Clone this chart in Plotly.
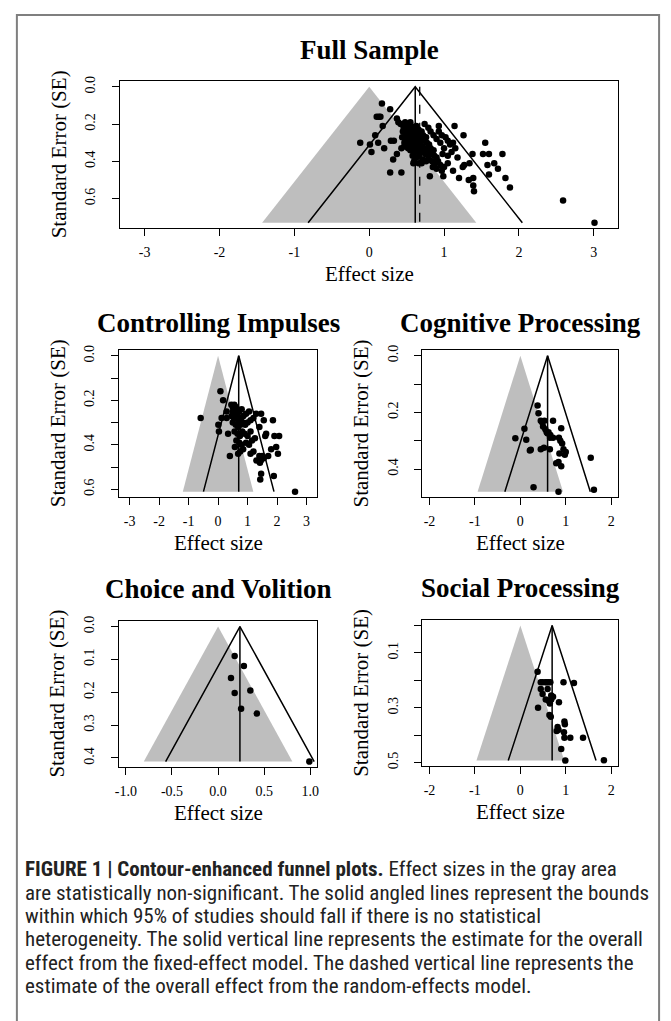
import plotly.graph_objects as go

# ---------------- DATA ----------------
# Full sample (effect size, standard error)
full_effect = [
    0.17, 0.28, 0.10, 0.13, 0.15, 0.37, 0.39, 0.42, 0.18, 0.08, -0.12, 0.01, 0.03, 0.12, 0.20,
    0.29, 0.33, 0.28, 0.43, 0.32, 0.37, 0.43, 0.47, 0.81, 0.93, 1.14, 1.26, 1.55, 1.52, 1.60,
    1.78, 1.67, 1.58, 1.72, 1.60, 1.82, 1.88, 1.38, 1.34, 1.25, 1.27, 1.20, 1.12, 1.33, 1.39,
    1.39, 1.40, 2.59, 3.01, 0.59, 0.70, 0.99,
    0.46, 0.50, 0.53, 0.56, 0.60, 0.63, 0.66, 0.70,
    0.45, 0.49, 0.52, 0.55, 0.58, 0.62, 0.65, 0.68, 0.72, 0.76,
    0.44, 0.48, 0.51, 0.54, 0.57, 0.60, 0.63, 0.66, 0.69, 0.73, 0.77, 0.80,
    0.47, 0.50, 0.53, 0.56, 0.59, 0.62, 0.65, 0.68, 0.71, 0.74, 0.78, 0.82, 0.86,
    0.52, 0.55, 0.58, 0.61, 0.64, 0.70, 0.75, 0.79, 0.83, 0.87, 0.90,
    0.58, 0.63, 0.67, 0.72, 0.76, 0.80, 0.84, 0.88, 0.92,
    0.60, 0.66, 0.85, 0.90, 0.95, 0.97, 1.00, 1.05,
    0.93, 0.97, 1.02, 1.05, 1.08, 1.12, 1.15, 1.10, 1.00, 0.95, 0.90, 0.86, 0.82, 0.79, 0.74,
    0.55, 0.48, 1.18, 1.05, 0.98,
]
full_se = [
    0.09, 0.12, 0.16, 0.16, 0.16, 0.17, 0.19, 0.20, 0.21, 0.26, 0.30, 0.31, 0.35, 0.30, 0.33,
    0.29, 0.29, 0.46, 0.46, 0.39, 0.36, 0.33, 0.32, 0.48, 0.21, 0.21, 0.26, 0.30, 0.36, 0.36,
    0.36, 0.41, 0.42, 0.44, 0.47, 0.49, 0.54, 0.36, 0.41, 0.43, 0.42, 0.49, 0.45, 0.50, 0.49,
    0.53, 0.56, 0.61, 0.73, 0.41, 0.41, 0.48,
    0.22, 0.21, 0.22, 0.21, 0.22, 0.21, 0.23, 0.24,
    0.24, 0.25, 0.24, 0.25, 0.24, 0.25, 0.26, 0.25, 0.26, 0.27,
    0.27, 0.28, 0.27, 0.28, 0.27, 0.28, 0.27, 0.29, 0.28, 0.29, 0.30, 0.31,
    0.30, 0.31, 0.30, 0.31, 0.30, 0.31, 0.32, 0.31, 0.32, 0.33, 0.34, 0.33, 0.34,
    0.33, 0.34, 0.33, 0.35, 0.34, 0.35, 0.36, 0.37, 0.36, 0.37, 0.38,
    0.37, 0.38, 0.37, 0.39, 0.40, 0.39, 0.40, 0.41, 0.40,
    0.40, 0.41, 0.43, 0.44, 0.42, 0.45, 0.43, 0.41,
    0.24, 0.26, 0.27, 0.29, 0.31, 0.30, 0.33, 0.35, 0.33, 0.30, 0.28, 0.26, 0.24, 0.22, 0.20,
    0.19, 0.19, 0.38, 0.37, 0.36,
]
full_fixed = 0.615
full_random = 0.675

# Controlling Impulses
ci_effect = [
    0.08, 0.17, -0.59, 0.12, 0.01, 0.03, 0.34, 0.40, 0.29, 0.29,
    0.45, 0.50, 0.55, 0.60, 0.65, 0.50, 0.58, 0.66, 0.72, 0.80, 0.46, 0.54, 0.62, 0.70, 0.78,
    0.86, 0.95, 1.05, 0.50, 0.60, 0.68, 0.76, 0.84, 0.92, 1.00, 1.10, 1.20, 0.56, 0.66, 0.74,
    0.82, 0.90, 1.00, 1.10, 0.62, 0.72, 0.80, 0.95, 1.05, 1.15, 0.57, 0.75, 0.85, 0.68,
    1.46, 1.29, 1.55, 1.86, 1.40, 1.63, 1.60, 1.91, 2.07, 1.97, 2.03, 1.80, 1.70, 1.40, 1.50,
    1.30, 1.45, 1.55, 1.42, 1.46, 1.43, 1.89, 2.61, 1.25, 1.20, 1.10,
]
ci_se = [
    0.16, 0.20, 0.28, 0.28, 0.31, 0.34, 0.35, 0.45, 0.28, 0.25,
    0.22, 0.23, 0.22, 0.23, 0.24, 0.25, 0.26, 0.26, 0.25, 0.24, 0.27, 0.28, 0.28, 0.29, 0.28,
    0.27, 0.26, 0.25, 0.30, 0.31, 0.32, 0.31, 0.30, 0.31, 0.30, 0.29, 0.28, 0.34, 0.35, 0.36,
    0.34, 0.35, 0.36, 0.34, 0.38, 0.39, 0.40, 0.39, 0.40, 0.38, 0.41, 0.43, 0.42, 0.44,
    0.26, 0.26, 0.29, 0.29, 0.32, 0.35, 0.36, 0.36, 0.36, 0.41, 0.44, 0.42, 0.45, 0.45, 0.45,
    0.47, 0.47, 0.46, 0.48, 0.53, 0.555, 0.54, 0.61, 0.37, 0.43, 0.44,
]
ci_fixed = 0.70

# Cognitive Processing
cp_effect = [
    0.38, 0.40, 0.45, 0.48, 0.53, 0.72, 0.50, 0.55, 0.58, 0.09, 0.90, 0.62, 0.66, 0.60, 0.65,
    0.72, -0.11, 0.13, 0.85, 0.88, 0.92, 0.23, 0.21, 0.45, 0.52, 0.65, 0.95, 1.00, 0.98, 0.86,
    1.55, 0.79, 0.84, 0.90, 0.29, 0.84, 1.62,
]
cp_se = [
    0.176, 0.203, 0.23, 0.235, 0.23, 0.23, 0.25, 0.26, 0.27, 0.258, 0.256, 0.27, 0.28, 0.275, 0.29,
    0.29, 0.291, 0.297, 0.29, 0.30, 0.31, 0.332, 0.335, 0.33, 0.325, 0.33, 0.33, 0.34, 0.35, 0.345,
    0.36, 0.38, 0.375, 0.39, 0.464, 0.48, 0.473,
]
cp_fixed = 0.60

# Choice and Volition
cv_effect = [0.18, 0.28, 0.14, 0.18, 0.35, 0.25, 0.42, 0.99]
cv_se = [0.09, 0.12, 0.157, 0.202, 0.195, 0.25, 0.265, 0.411]
cv_fixed = 0.237

# Social Processing
sp_effect = [
    0.38, 0.45, 0.49, 0.55, 0.58, 0.62, 0.66, 0.95, 1.18, 0.45, 0.60, 0.49, 0.68, 0.72, 0.56,
    0.62, 0.65, 0.68, 0.85, 0.39, 0.64, 0.67, 0.97, 0.98, 0.82, 0.84, 0.80, 0.96, 0.97, 1.10,
    1.38, 0.90, 0.99, 1.84,
]
sp_se = [
    0.169, 0.207, 0.207, 0.207, 0.207, 0.207, 0.207, 0.207, 0.21, 0.232, 0.232, 0.25, 0.255, 0.26, 0.27,
    0.275, 0.285, 0.27, 0.28, 0.30, 0.327, 0.333, 0.35, 0.36, 0.37, 0.38, 0.385, 0.39, 0.41, 0.41,
    0.41, 0.451, 0.493, 0.492,
]
sp_fixed = 0.70

# Titles and tick labels
panel_titles = ["Full Sample", "Controlling Impulses", "Cognitive Processing",
                "Choice and Volition", "Social Processing"]
x_tickvals = [
    [-3, -2, -1, 0, 1, 2, 3],
    [-3, -2, -1, 0, 1, 2, 3],
    [-2, -1, 0, 1, 2],
    [-1.0, -0.5, 0.0, 0.5, 1.0],
    [-2, -1, 0, 1, 2],
]
x_ticktext = [
    ["-3", "-2", "-1", "0", "1", "2", "3"],
    ["-3", "-2", "-1", "0", "1", "2", "3"],
    ["-2", "-1", "0", "1", "2"],
    ["-1.0", "-0.5", "0.0", "0.5", "1.0"],
    ["-2", "-1", "0", "1", "2"],
]
y_tickvals = [
    [0.0, 0.2, 0.4, 0.6],
    [0.0, 0.1, 0.2, 0.3, 0.4, 0.5, 0.6],
    [0.0, 0.1, 0.2, 0.3, 0.4],
    [0.0, 0.1, 0.2, 0.3, 0.4],
    [0.0, 0.1, 0.2, 0.3, 0.4, 0.5],
]
y_ticktext = [
    ["0.0", "0.2", "0.4", "0.6"],
    ["0.0", "", "0.2", "", "0.4", "", "0.6"],
    ["0.0", "", "0.2", "", "0.4"],
    ["0.0", "0.1", "0.2", "0.3", "0.4"],
    ["", "0.1", "", "0.3", "", "0.5"],
]
caption_lines = [
    "<b>FIGURE 1 | Contour-enhanced funnel plots.</b> Effect sizes in the gray area",
    "are statistically non-significant. The solid angled lines represent the bounds",
    "within which 95% of studies should fall if there is no statistical",
    "heterogeneity. The solid vertical line represents the estimate for the overall",
    "effect from the fixed-effect model. The dashed vertical line represents the",
    "estimate of the overall effect from the random-effects model.",
]

# ---------------- LAYOUT (pixels) ----------------
W, H = 671, 1021
boxes = [  # left, top, right, bottom in pixels
    (117, 77, 620, 225),
    (116, 348, 316, 496),
    (422, 348, 620, 496),
    (116, 621, 316, 768),
    (422, 620, 620, 767),
]
title_gap = [32, 27, 27, 32, 32]
x_ranges = [[-3.33, 3.33], [-3.36, 3.36], [-2.16, 2.16], [-1.075, 1.075], [-2.16, 2.16]]

effects = [full_effect, ci_effect, cp_effect, cv_effect, sp_effect]
ses = [full_se, ci_se, cp_se, cv_se, sp_se]
fixeds = [full_fixed, ci_fixed, cp_fixed, cv_fixed, sp_fixed]
randoms = [full_random, None, None, None, None]

SERIF = "Liberation Serif, Times New Roman, serif"
CAPFONT = "Roboto Condensed, Roboto, Liberation Sans, sans-serif"
GRAY = "#BEBEBE"


def px(x):
    return x / W


def py(y):
    return 1 - y / H


fig = go.Figure()
layout = dict(
    width=W, height=H, margin=dict(l=0, r=0, t=0, b=0),
    paper_bgcolor="white", plot_bgcolor="white", showlegend=False,
)
annotations = []

for i in range(5):
    n = "" if i == 0 else str(i + 1)
    xa, ya = "x" + n, "y" + n
    eff, se, fixed = effects[i], ses[i], fixeds[i]
    m = max(se)
    z = 1.96 * m
    # non-significance region (gray triangle around 0)
    fig.add_trace(go.Scatter(x=[-z, 0, z, -z], y=[m, 0, m, m], mode="lines",
                             fill="toself", fillcolor=GRAY, line=dict(width=0),
                             xaxis=xa, yaxis=ya, hoverinfo="skip"))
    # 95% pseudo-confidence funnel around fixed estimate
    fig.add_trace(go.Scatter(x=[fixed - z, fixed, fixed + z], y=[m, 0, m], mode="lines",
                             line=dict(color="black", width=1.5),
                             xaxis=xa, yaxis=ya, hoverinfo="skip"))
    fig.add_trace(go.Scatter(x=[fixed, fixed], y=[0, m], mode="lines",
                             line=dict(color="black", width=1.5),
                             xaxis=xa, yaxis=ya, hoverinfo="skip"))
    if randoms[i] is not None:
        fig.add_trace(go.Scatter(x=[randoms[i], randoms[i]], y=[0, m], mode="lines",
                                 line=dict(color="black", width=1.3, dash="dash"),
                                 xaxis=xa, yaxis=ya, hoverinfo="skip"))
    fig.add_trace(go.Scatter(x=eff, y=se, mode="markers",
                             marker=dict(color="black", size=6.5),
                             xaxis=xa, yaxis=ya, cliponaxis=False))

    l, t, r, b = boxes[i]
    ax_common = dict(showline=True, mirror=True, linecolor="black", linewidth=1.2,
                     ticks="outside", ticklen=7, tickwidth=1.2, tickcolor="black",
                     showgrid=False, zeroline=False, fixedrange=True,
                     tickfont=dict(family=SERIF, size=14, color="black"))
    layout["xaxis" + n] = dict(ax_common, domain=[px(l), px(r)], range=x_ranges[i],
                               anchor=ya, tickmode="array", tickvals=x_tickvals[i],
                               ticktext=x_ticktext[i], ticklabelstandoff=4)
    layout["yaxis" + n] = dict(ax_common, domain=[py(b), py(t)],
                               range=[1.04 * m, -0.04 * m], anchor=xa,
                               tickmode="array", tickvals=y_tickvals[i],
                               ticktext=y_ticktext[i], tickangle=-90,
                               ticklabelstandoff=11)
    cx = (l + r) / 2
    annotations.append(dict(text="<b>" + panel_titles[i] + "</b>", x=px(cx),
                            y=py(t - title_gap[i]),
                            xref="paper", yref="paper", showarrow=False,
                            xanchor="center", yanchor="middle",
                            font=dict(family=SERIF, size=27, color="black")))
    annotations.append(dict(text="Effect size", x=px(cx), y=py(b + 46),
                            xref="paper", yref="paper", showarrow=False,
                            xanchor="center", yanchor="middle",
                            font=dict(family=SERIF, size=21, color="black")))
    annotations.append(dict(text="Standard Error (SE)", x=px(l - 62), y=py((t + b) / 2),
                            xref="paper", yref="paper", showarrow=False, textangle=-90,
                            xanchor="center", yanchor="middle",
                            font=dict(family=SERIF, size=21, color="black")))

cap_y0, cap_dy = 871, 23.6
for k, line in enumerate(caption_lines):
    annotations.append(dict(text=line, x=px(19), y=py(cap_y0 + k * cap_dy),
                            xref="paper", yref="paper", showarrow=False,
                            xanchor="left", yanchor="middle",
                            font=dict(family=CAPFONT, size=21, color="#222222")))

layout["annotations"] = annotations
layout["shapes"] = [dict(type="rect", xref="paper", yref="paper",
                         x0=px(13), y0=py(1030), x1=px(661), y1=py(10),
                         line=dict(color="#7F7F7F", width=2), fillcolor="rgba(0,0,0,0)",
                         layer="below")]
fig.update_layout(**layout)
fig.write_html("out.html", config={"displayModeBar": False},
               post_script="document.body.style.margin='0px';")
